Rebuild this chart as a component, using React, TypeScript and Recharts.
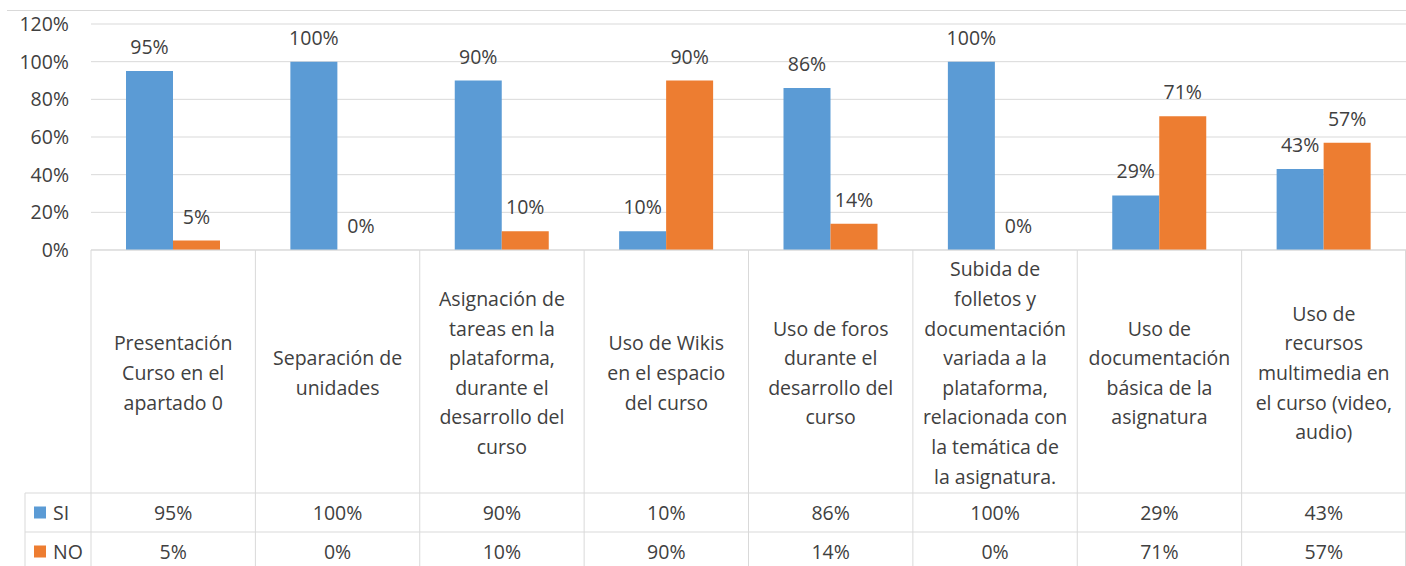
import React from "react";
import { BarChart, Bar, XAxis, YAxis, CartesianGrid, LabelList } from "recharts";

const categoryLines: string[][] = [
  ["Presentación", "Curso en el", "apartado 0"],
  ["Separación de", "unidades"],
  ["Asignación de", "tareas en la", "plataforma,", "durante el", "desarrollo del", "curso"],
  ["Uso de Wikis", "en el espacio", "del curso"],
  ["Uso de foros", "durante el", "desarrollo del", "curso"],
  ["Subida de", "folletos y", "documentación", "variada a la", "plataforma,", "relacionada con", "la temática de", "la asignatura."],
  ["Uso de", "documentación", "básica de la", "asignatura"],
  ["Uso de", "recursos", "multimedia en", "el curso (video,", "audio)"],
];
const categories = categoryLines.map((l) => l.join(" "));
const siValues = [95, 100, 90, 10, 86, 100, 29, 43];
const noValues = [5, 0, 10, 90, 14, 0, 71, 57];
const yTicks = [0, 20, 40, 60, 80, 100, 120];
const seriesNames = ["SI", "NO"];

const data = categories.map((c, i) => ({ name: c, SI: siValues[i], NO: noValues[i] }));

const W = 1406;
const H = 566;
const YW = 91;
const MT = 24;
const XH = 316;
const FONT = "'Open Sans', sans-serif";
const FS = 19.5;
const TXT = "#404040";
const GRID = "#d9d9d9";
const BLUE = "#5B9BD5";
const ORANGE = "#ED7D31";
const cellW = (W - YW) / categories.length;
const LABEL_H = 243;
const ROW_H = 39;
const LINE_H = 29.6;
const LEG_W = 66;

const pct = (v: number) => `${v}%`;
const zeroMin = (v: any) => (Number(v) === 0 ? 0.01 : 0);

function Tick(props: any) {
  const { x, y, index } = props;
  const lines = categoryLines[index] || [];
  const left = x - cellW / 2;
  const right = x + cellW / 2;
  const cy = y + LABEL_H / 2 + 1;
  const startY = cy - ((lines.length - 1) * LINE_H) / 2;
  const r1 = y + LABEL_H;
  const r2 = r1 + ROW_H;
  const r3 = r2 + ROW_H;
  const legLeft = left - LEG_W;
  return (
    <g>
      <line x1={left} y1={y} x2={right} y2={y} stroke={GRID} />
      <line x1={left} y1={y} x2={left} y2={r3 + 10} stroke={GRID} />
      {index === categories.length - 1 && (
        <line x1={right - 0.5} y1={y} x2={right - 0.5} y2={r3 + 10} stroke={GRID} />
      )}
      <line x1={left} y1={r1} x2={right} y2={r1} stroke={GRID} />
      <line x1={left} y1={r2} x2={right} y2={r2} stroke={GRID} />
      <line x1={left} y1={r3} x2={right} y2={r3} stroke={GRID} />
      {lines.map((t, i) => (
        <text key={i} x={x} y={startY + i * LINE_H} textAnchor="middle" dominantBaseline="central" fontSize={FS} fontFamily={FONT} fill={TXT}>
          {t}
        </text>
      ))}
      <text x={x} y={r1 + ROW_H / 2} textAnchor="middle" dominantBaseline="central" fontSize={FS} fontFamily={FONT} fill={TXT}>
        {pct(siValues[index])}
      </text>
      <text x={x} y={r2 + ROW_H / 2} textAnchor="middle" dominantBaseline="central" fontSize={FS} fontFamily={FONT} fill={TXT}>
        {pct(noValues[index])}
      </text>
      {index === 0 && (
        <g>
          <line x1={legLeft} y1={r1} x2={left} y2={r1} stroke={GRID} />
          <line x1={legLeft} y1={r2} x2={left} y2={r2} stroke={GRID} />
          <line x1={legLeft} y1={r3} x2={left} y2={r3} stroke={GRID} />
          <line x1={legLeft} y1={r1} x2={legLeft} y2={r3 + 10} stroke={GRID} />
          {seriesNames.map((s, i) => {
            const ry = r1 + i * ROW_H + ROW_H / 2;
            return (
              <g key={s}>
                <rect x={legLeft + 9} y={ry - 6} width={12} height={12} fill={i === 0 ? BLUE : ORANGE} />
                <text x={legLeft + 28} y={ry} dominantBaseline="central" fontSize={FS} fontFamily={FONT} fill={TXT}>
                  {s}
                </text>
              </g>
            );
          })}
        </g>
      )}
    </g>
  );
}

export default function App() {
  return (
    <div style={{ position: "absolute", left: 0, top: 0, width: W, height: H, background: "#fff", fontFamily: FONT }}>
      <BarChart width={W} height={H} data={data} margin={{ top: MT, right: 0, left: 0, bottom: 0 }} barGap={0} barSize={47}>
        <CartesianGrid vertical={false} stroke={GRID} />
        <XAxis dataKey="name" height={XH} interval={0} tick={<Tick />} tickLine={false} axisLine={false} tickSize={0} tickMargin={0} />
        <YAxis
          width={YW}
          domain={[0, 120]}
          ticks={yTicks}
          tickFormatter={pct}
          axisLine={false}
          tickLine={false}
          tickSize={0}
          tickMargin={22}
          tick={{ fill: TXT, fontSize: FS, fontFamily: FONT }}
        />
        <Bar dataKey="SI" fill={BLUE} isAnimationActive={false} minPointSize={zeroMin}>
          <LabelList dataKey="SI" position="top" offset={17} formatter={pct} fill={TXT} fontSize={FS} fontFamily={FONT} />
        </Bar>
        <Bar dataKey="NO" fill={ORANGE} isAnimationActive={false} minPointSize={zeroMin}>
          <LabelList dataKey="NO" position="top" offset={17} formatter={pct} fill={TXT} fontSize={FS} fontFamily={FONT} />
        </Bar>
        <line x1={7} y1={10.5} x2={W} y2={10.5} stroke={GRID} />
      </BarChart>
    </div>
  );
}
